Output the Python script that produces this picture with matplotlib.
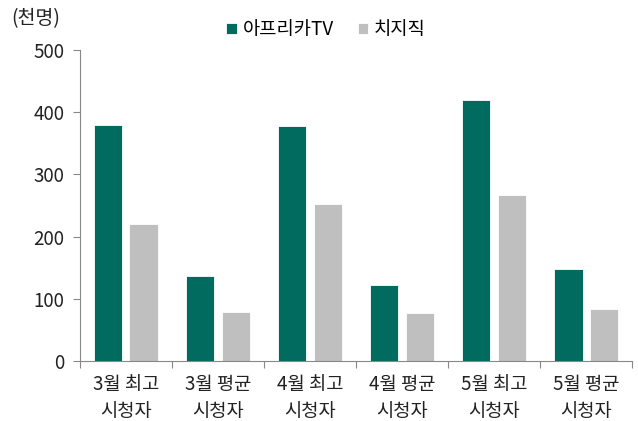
import matplotlib
matplotlib.use("Agg")
import matplotlib.pyplot as plt
import numpy as np

plt.rcParams['font.family'] = ['Noto Sans CJK KR', 'DejaVu Sans']

categories = ["3월 최고\n시청자", "3월 평균\n시청자", "4월 최고\n시청자", "4월 평균\n시청자", "5월 최고\n시청자", "5월 평균\n시청자"]
afreeca = [380, 137, 378, 122, 420, 148]
chzzk = [220, 79, 252, 77, 267, 84]
series_names = ["아프리카TV", "치지직"]
yticks = [0, 100, 200, 300, 400, 500]

fig = plt.figure(figsize=(6.38, 4.21), dpi=100)
ax = fig.add_axes([0.125, 0.1425, 0.866, 0.739])

x = np.arange(len(categories))
w = 0.31
off = 0.195
ax.bar(x - off, afreeca, w, color="#006B5E", edgecolor="white", linewidth=0.6, label=series_names[0])
ax.bar(x + off, chzzk, w, color="#BFBFBF", edgecolor="white", linewidth=0.6, label=series_names[1])

ax.set_xlim(-0.5, len(categories) - 0.5)
ax.set_ylim(0, 500)
ax.set_yticks(yticks)
ax.set_xticks(x)
ax.set_xticklabels(categories, fontsize=13.5, color="#222222", linespacing=1.4)
ax.set_xticks(np.arange(len(categories) + 1) - 0.5, minor=True)
ax.tick_params(axis='x', which='major', length=0, pad=9)
ax.tick_params(axis='x', which='minor', length=5, color="#888888", width=0.8)
ax.tick_params(axis='y', labelsize=13.5, length=5, color="#888888", width=0.8, labelcolor="#222222", pad=6)

for s in ["top", "right"]:
    ax.spines[s].set_visible(False)
for s in ["left", "bottom"]:
    ax.spines[s].set_color("#888888")
    ax.spines[s].set_linewidth(0.8)

fig.text(0.018, 0.955, "(천명)", fontsize=14, color="#222222", va="center", ha="left")
fig.legend(loc="center", bbox_to_anchor=(0.511, 0.929), ncol=2, frameon=False, fontsize=13.5,
           handlelength=0.55, handleheight=0.55, handletextpad=0.3, columnspacing=1.3)

fig.savefig("out.png", dpi=100)
